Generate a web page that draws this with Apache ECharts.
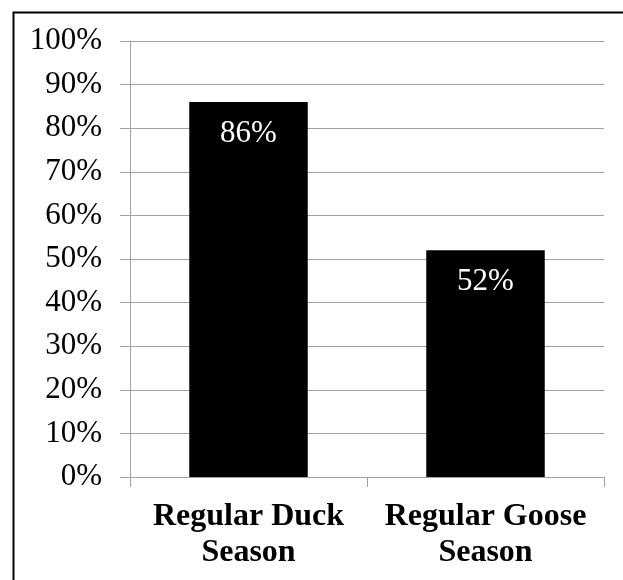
<!DOCTYPE html>
<html>
<head>
<meta charset="utf-8">
<script src="https://cdn.jsdelivr.net/npm/echarts@6/dist/echarts.min.js"></script>
<style>
  html, body { margin: 0; padding: 0; background: #fff; }
  #chart { width: 623px; height: 580px; }
</style>
</head>
<body>
<div id="chart"></div>
<script>
// Share of respondents who hunted each season
const categories = ['Regular Duck\nSeason', 'Regular Goose\nSeason'];
const percentages = [86, 52];
const yTicks = { min: 0, max: 100, interval: 10 };

const serif = '"Liberation Serif", "Times New Roman", serif';
const gridGray = '#a0a0a0';

const chart = echarts.init(document.getElementById('chart'), null, { renderer: 'canvas' });

chart.setOption({
  animation: false,
  backgroundColor: '#ffffff',
  grid: { left: 130, right: 19, top: 41, bottom: 103, containLabel: false },
  xAxis: {
    type: 'category',
    data: categories,
    axisLine: { show: true, lineStyle: { color: gridGray, width: 1 } },
    axisTick: { show: true, length: 10, alignWithLabel: false, lineStyle: { color: gridGray } },
    axisLabel: {
      margin: 22,
      color: '#000',
      fontFamily: serif,
      fontWeight: 'bold',
      fontSize: 32,
      lineHeight: 36,
      interval: 0
    },
    splitLine: { show: false }
  },
  yAxis: {
    type: 'value',
    min: yTicks.min,
    max: yTicks.max,
    interval: yTicks.interval,
    axisLine: { show: true, lineStyle: { color: gridGray, width: 1 } },
    axisTick: { show: true, length: 10, lineStyle: { color: gridGray } },
    axisLabel: {
      margin: 28,
      color: '#000',
      fontFamily: serif,
      fontSize: 31,
      formatter: v => v + '%'
    },
    splitLine: { show: true, lineStyle: { color: gridGray, width: 1 } }
  },
  series: [{
    type: 'bar',
    data: percentages,
    barWidth: '50%',
    itemStyle: { color: '#000000' },
    label: {
      show: true,
      position: 'insideTop',
      distance: 16,
      color: '#ffffff',
      fontFamily: serif,
      fontSize: 31,
      formatter: p => p.value + '%'
    }
  }],
  graphic: [{
    type: 'rect',
    left: 11,
    top: 10,
    shape: { x: 0, y: 0, width: 700, height: 700 },
    style: { fill: 'none', stroke: '#000', lineWidth: 2 },
    silent: true
  }]
});
</script>
</body>
</html>
